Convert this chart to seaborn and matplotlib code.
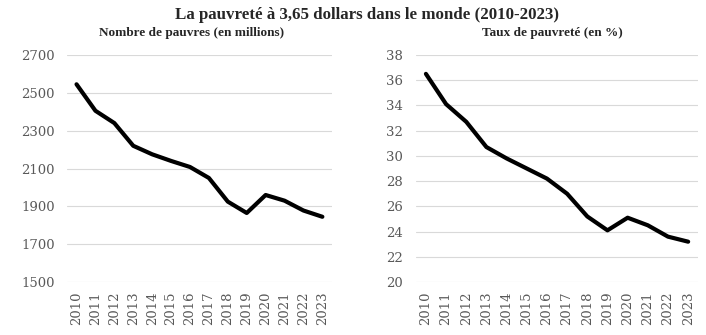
import matplotlib
matplotlib.use("Agg")
import matplotlib.pyplot as plt
import seaborn as sns
import pandas as pd

years = [2010, 2011, 2012, 2013, 2014, 2015, 2016, 2017, 2018, 2019, 2020, 2021, 2022, 2023]
pauvres = [2545, 2405, 2340, 2220, 2175, 2140, 2108, 2050, 1925, 1865, 1960, 1930, 1878, 1845]
taux = [36.5, 34.1, 32.7, 30.7, 29.8, 29.0, 28.2, 27.0, 25.2, 24.1, 25.1, 24.5, 23.6, 23.2]

title = "La pauvreté à 3,65 dollars dans le monde (2010-2023)"
sub_left = "Nombre de pauvres (en millions)"
sub_right = "Taux de pauvreté (en %)"

sns.set_theme(style="white")
plt.rcParams['font.family'] = ['DejaVu Serif']

df = pd.DataFrame({"annee": years, "pauvres": pauvres, "taux": taux})

fig = plt.figure(figsize=(7.06, 3.35), dpi=100)
ax1 = fig.add_axes([0.095, 0.158, 0.375, 0.678])
ax2 = fig.add_axes([0.589, 0.158, 0.400, 0.678])

tick_color = "#595959"
configs = [
    (ax1, "pauvres", list(range(1500, 2701, 200)), (1500, 2700), sub_left, 192 / 706),
    (ax2, "taux", list(range(20, 39, 2)), (20, 38), sub_right, 552 / 706),
]
for ax, col, yt, yl, sub, sx in configs:
    sns.lineplot(data=df, x="annee", y=col, ax=ax, color="black", linewidth=3.0)
    ax.set_xlim(2009.5, 2023.5)
    ax.set_ylim(*yl)
    ax.set_yticks(yt)
    ax.set_xticks(years)
    ax.set_xticklabels([str(y) for y in years], rotation=90)
    ax.grid(axis="y", color="#d9d9d9", linewidth=0.8)
    ax.set_axisbelow(True)
    for s in ax.spines.values():
        s.set_visible(False)
    ax.tick_params(axis="both", length=0, labelsize=9.5, colors=tick_color)
    ax.tick_params(axis="y", pad=9)
    ax.tick_params(axis="x", pad=7)
    ax.set_xlabel("")
    ax.set_ylabel("")
    fig.text(sx, 1 - 36 / 335, sub, family="Liberation Serif", fontweight="bold",
             fontsize=9.5, ha="center", va="baseline")

fig.text(367 / 706, 1 - 19 / 335, title, family="Liberation Serif", fontweight="bold",
         fontsize=12.2, ha="center", va="baseline")

fig.savefig("out.png", dpi=100)
